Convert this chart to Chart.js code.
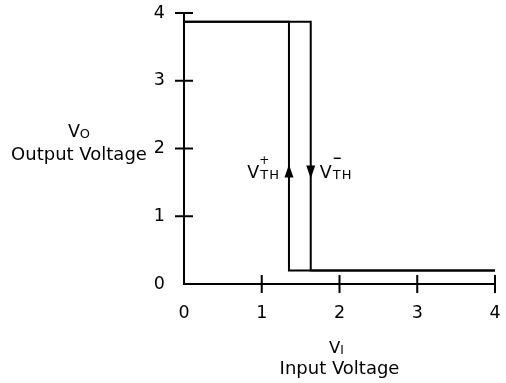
<!DOCTYPE html>
<html>
<head>
<meta charset="utf-8">
<script src="https://cdn.jsdelivr.net/npm/chart.js@4.4.1/dist/chart.umd.min.js"></script>
<style>
  html, body { margin: 0; padding: 0; background: #fff; }
  #wrap { width: 506px; height: 383px; }
</style>
</head>
<body>
<div id="wrap"><canvas id="chart"></canvas></div>
<script>
const xTicks = [0, 1, 2, 3, 4];
const yTicks = [0, 1, 2, 3, 4];

// thresholds and output levels
const vthPlus = 1.35;
const vthMinus = 1.63;
const vHigh = 3.87;
const vLow = 0.2;

// input going up: output holds high until V_TH-, then drops
const riseX = [0, vthMinus, vthMinus, 4];
const riseY = [vHigh, vHigh, vLow, vLow];
// input going down: output holds low until V_TH+, then jumps back
const fallX = [4, vthPlus, vthPlus, 0];
const fallY = [vLow, vLow, vHigh, vHigh];

const arrowY = 1.66;   // height of the direction arrows

const FONT = '"DejaVu Sans", sans-serif';
const toPts = (xs, ys) => xs.map((x, i) => ({ x, y: ys[i] }));

function font(size) { return size + 'px ' + FONT; }

// draws "main" then a smaller "sub" on the same baseline, anchored by center or an edge
function subText(ctx, main, sub, x, y, size, subSize, align) {
  ctx.font = font(size);
  const w1 = ctx.measureText(main).width;
  ctx.font = font(subSize);
  const w2 = ctx.measureText(sub).width;
  const total = w1 + w2;
  const x0 = align === 'right' ? x - total : align === 'left' ? x : x - total / 2;
  ctx.textAlign = 'left';
  ctx.textBaseline = 'alphabetic';
  ctx.font = font(size);
  ctx.fillText(main, x0, y);
  ctx.font = font(subSize);
  ctx.fillText(sub, x0 + w1, y + 1);
  return { x0, w1, w2 };
}

const decor = {
  id: 'decor',
  afterDraw(chart) {
    const { ctx, scales: { x, y } } = chart;
    ctx.save();
    ctx.strokeStyle = '#000';
    ctx.fillStyle = '#000';
    ctx.lineWidth = 2;

    // tick marks crossing both axes
    ctx.beginPath();
    xTicks.forEach(v => {
      if (v === 0) return;
      const px = x.getPixelForValue(v);
      ctx.moveTo(px, y.bottom - 9);
      ctx.lineTo(px, y.bottom + 9);
    });
    yTicks.forEach(v => {
      if (v === 0) return;
      const py = y.getPixelForValue(v);
      ctx.moveTo(x.left - 9, py);
      ctx.lineTo(x.left + 9, py);
    });
    ctx.stroke();

    // direction arrows on the two thresholds
    const ay = y.getPixelForValue(arrowY);
    const up = x.getPixelForValue(vthPlus);
    const dn = x.getPixelForValue(vthMinus);
    ctx.beginPath();
    ctx.moveTo(up, ay - 7);
    ctx.lineTo(up + 4.5, ay + 6);
    ctx.lineTo(up - 4.5, ay + 6);
    ctx.closePath();
    ctx.moveTo(dn, ay + 7);
    ctx.lineTo(dn + 4.5, ay - 6);
    ctx.lineTo(dn - 4.5, ay - 6);
    ctx.closePath();
    ctx.fill();

    // threshold labels
    const base = ay + 6;
    ctx.letterSpacing = '1px';
    const l = subText(ctx, 'V', 'TH', up - 9, base, 17.5, 13, 'right');
    const r = subText(ctx, 'V', 'TH', dn + 9, base, 17.5, 13, 'left');
    ctx.letterSpacing = '0px';
    ctx.font = font(12);
    ctx.textAlign = 'center';
    ctx.textBaseline = 'alphabetic';
    ctx.fillText('+', l.x0 + l.w1 + 4, base - 14);
    ctx.fillRect(r.x0 + r.w1 + 1, base - 20, 7, 1.5);

    // axis titles
    subText(ctx, 'V', 'O', 79, 137, 17.5, 13, 'center');
    ctx.font = font(18);
    ctx.textAlign = 'center';
    ctx.fillText('Output Voltage', 79, 160);

    const cx = (x.left + x.right) / 2;
    subText(ctx, 'V', 'I', cx - 3, 353, 16.5, 12, 'center');
    ctx.font = font(18);
    ctx.textAlign = 'center';
    ctx.fillText('Input Voltage', cx, 374);

    ctx.restore();
  }
};

const lineStyle = {
  showLine: true,
  borderColor: '#000',
  borderWidth: 2,
  pointRadius: 0,
  fill: false,
  tension: 0
};

new Chart(document.getElementById('chart'), {
  type: 'scatter',
  data: {
    datasets: [
      { label: 'rising', data: toPts(riseX, riseY), ...lineStyle },
      { label: 'falling', data: toPts(fallX, fallY), ...lineStyle }
    ]
  },
  options: {
    responsive: true,
    maintainAspectRatio: false,
    animation: false,
    layout: { padding: { top: 13, right: 11, left: 0, bottom: 0 } },
    plugins: { legend: { display: false }, tooltip: { enabled: false } },
    scales: {
      x: {
        type: 'linear',
        min: 0,
        max: 4,
        afterBuildTicks: s => { s.ticks = xTicks.map(v => ({ value: v })); },
        afterFit: s => { s.height = 99; s.paddingLeft = 0; s.paddingRight = 0; },
        grid: { display: false, drawTicks: false, tickLength: 0 },
        border: { display: true, color: '#000', width: 2 },
        ticks: { color: '#000', font: { family: FONT, size: 17.5 }, padding: 19, maxRotation: 0 }
      },
      y: {
        type: 'linear',
        min: 0,
        max: 4,
        afterBuildTicks: s => { s.ticks = yTicks.map(v => ({ value: v })); },
        afterFit: s => { s.width = 184; s.paddingTop = 0; s.paddingBottom = 0; },
        grid: { display: false, drawTicks: false, tickLength: 0 },
        border: { display: true, color: '#000', width: 2 },
        ticks: { color: '#000', font: { family: FONT, size: 17.5 }, padding: 19 }
      }
    }
  },
  plugins: [decor]
});
</script>
</body>
</html>
